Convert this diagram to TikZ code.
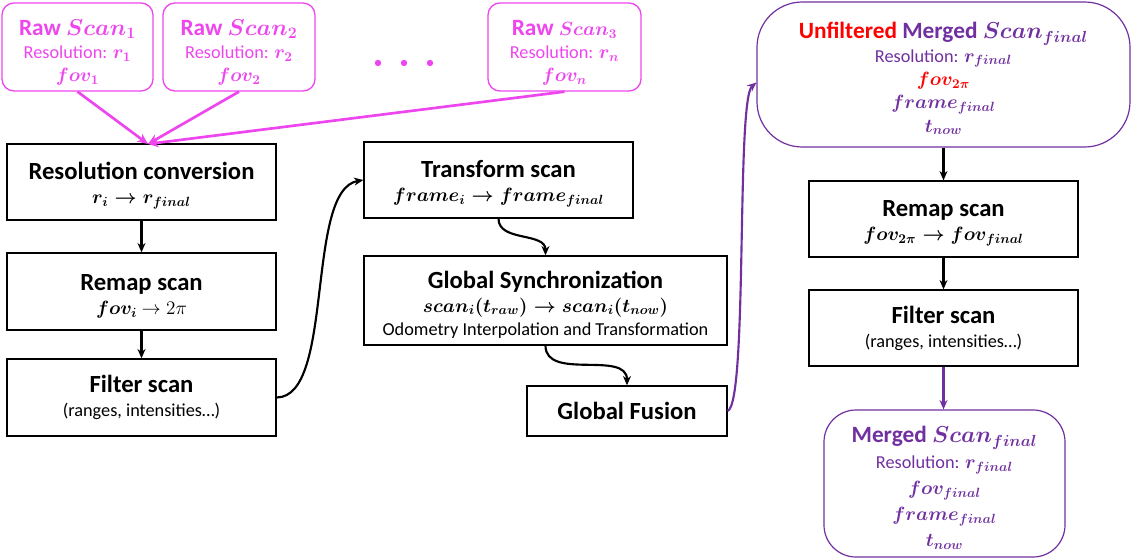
\documentclass[tikz,border=0pt]{standalone}
\usepackage{amsmath}
\usepackage{bm}
\usepackage{fontspec}
\setmainfont{Carlito}
\usetikzlibrary{arrows.meta}
\definecolor{mag}{RGB}{238,70,238}
\definecolor{pur}{RGB}{112,48,160}
\newcommand\tfont{\fontsize{17.5}{20}\selectfont\bfseries\boldmath}
\newcommand\btfont{\fontsize{18.5}{20}\selectfont\bfseries\boldmath}
\newcommand\sfont{\fontsize{13.7}{17}\selectfont}
\newcommand\mfont{\fontsize{14.4}{17}\selectfont\boldmath}
\newcommand\bs[1]{\fontsize{13.5}{#1}\selectfont}
\newcommand\up[1]{\rule{0pt}{#1}}
\tikzset{
  box/.style={draw=black, line width=1pt, align=center, inner sep=0pt, font=\bs{18pt}},
  rawbox/.style={draw=mag, line width=1pt, rounded corners=9pt, align=center, inner sep=0pt, text=mag, font=\bs{17.5pt}},
  purbox/.style={draw=pur, line width=0.9pt, align=center, inner sep=0pt, text=pur, font=\bs{17.5pt}},
  sz/.style 2 args={minimum width=#1*0.75pt, minimum height=#2*0.75pt},
  conn/.style={-{Stealth[length=7pt,width=6pt]}, line width=1.6pt, black},
  pconn/.style={-{Stealth[length=7pt,width=6pt]}, line width=1.6pt, pur},
  mconn/.style={-{Stealth[length=8pt,width=7pt]}, line width=2pt, mag},
}
\begin{document}
\begin{tikzpicture}[x=0.75pt, y=-0.75pt]
\useasboundingbox (0,0) rectangle (1133,560);

% raw scans
\node[rawbox, sz={151}{88}] (raw1) at (77.5,47)
  {\up{20pt}{\tfont Raw $\bm{Scan_1}$}\\ {\sfont Resolution: \mfont$r_1$}\\ {\mfont$fov_1$}};
\node[rawbox, sz={152}{88}] (raw2) at (239,47)
  {\up{20pt}{\tfont Raw $\bm{Scan_2}$}\\ {\sfont Resolution: \mfont$r_2$}\\ {\mfont$fov_2$}};
\node[rawbox, sz={153}{88}] (raw3) at (564.5,47)
  {\up{20pt}{\tfont Raw {\fontsize{14.4}{16}\selectfont $\bm{Scan_3}$}}\\ {\sfont Resolution: \mfont$r_n$}\\ {\mfont$fov_n$}};
\foreach \i/\xx in {1/378,2/404,3/430}
  \fill[mag] (\xx,63) circle (3.2);

% left column
\node[box, sz={269}{76}] (res) at (141.5,182)
  {\up{19pt}{\btfont Resolution conversion}\\ {\mfont$r_i \rightarrow r_{final}$}};
\node[box, sz={269}{77}] (remapL) at (141.5,291.5)
  {\up{20pt}{\btfont Remap scan}\\ {\mfont$fov_i$ \unboldmath$\rightarrow 2\pi$}};
\node[box, sz={269}{77}] (filterL) at (141.5,397.5)
  {{\btfont Filter scan}\\ {\sfont (ranges, intensities…)}};

% middle column
\node[box, sz={269}{76}] (transform) at (498.5,180)
  {\up{19pt}{\btfont Transform scan}\\ {\mfont$frame_i \rightarrow frame_{final}$}};
\node[box, sz={363}{89}, font=\bs{17.5pt}] (sync) at (545.5,300.5)
  {\up{19.5pt}{\btfont Global Synchronization}\\ {\mfont$scan_i(t_{raw}) \rightarrow scan_i(t_{now})$}\\ {\sfont Odometry Interpolation and Transformation}};
\node[box, sz={200}{50}] (fusion) at (627,411)
  {{\btfont Global Fusion}};

% right column
\node[purbox, rounded corners=34pt, sz={373}{145}] (unf) at (943.5,74.5)
  {\up{18.5pt}{\tfont\textcolor{red}{Unfiltered} Merged $\bm{Scan_{final}}$}\\
   {\sfont Resolution: \mfont$r_{final}$}\\
   {\mfont\textcolor{red}{$fov_{2\pi}$}}\\
   {\mfont$frame_{final}$}\\
   {\mfont$t_{now}$}};
\node[box, sz={269}{76}] (remapR) at (943.5,219)
  {\up{19pt}{\btfont Remap scan}\\ {\mfont$fov_{2\pi} \rightarrow fov_{final}$}};
\node[box, sz={269}{76}] (filterR) at (943.5,328)
  {{\btfont Filter scan}\\ {\sfont (ranges, intensities…)}};
\node[purbox, rounded corners=24pt, sz={241}{147}, font=\bs{19.5pt}] (merged) at (944.5,483.5)
  {\up{19pt}{\tfont Merged $\bm{Scan_{final}}$}\\
   {\sfont Resolution: \mfont$r_{final}$}\\
   {\mfont$fov_{final}$}\\
   {\mfont$frame_{final}$}\\
   {\mfont$t_{now}$}};

% connectors
\coordinate (rin) at (148,144);
\draw[mconn] (raw1.south) -- (rin);
\draw[mconn] (raw2.south) -- (rin);
\draw[mconn] (raw3.south) -- (rin);

\draw[conn] (res) -- (remapL);
\draw[conn] (remapL) -- (filterL);
\draw[conn] (filterL.east) .. controls (335,397) and (305,190) .. (transform.west);
\draw[conn] (transform.south) to[out=-90, in=90] (sync.north);
\draw[conn] (sync.south) to[out=-90, in=90] (fusion.north);
\draw[pconn] (fusion.east) .. controls (748,402) and (736,100) .. ([yshift=-6]unf.west);

\draw[conn] (unf.south) -- (remapR.north);
\draw[conn] (remapR) -- (filterR);
\draw[pconn] (filterR.south) -- (filterR.south |- merged.north);
\end{tikzpicture}
\end{document}
